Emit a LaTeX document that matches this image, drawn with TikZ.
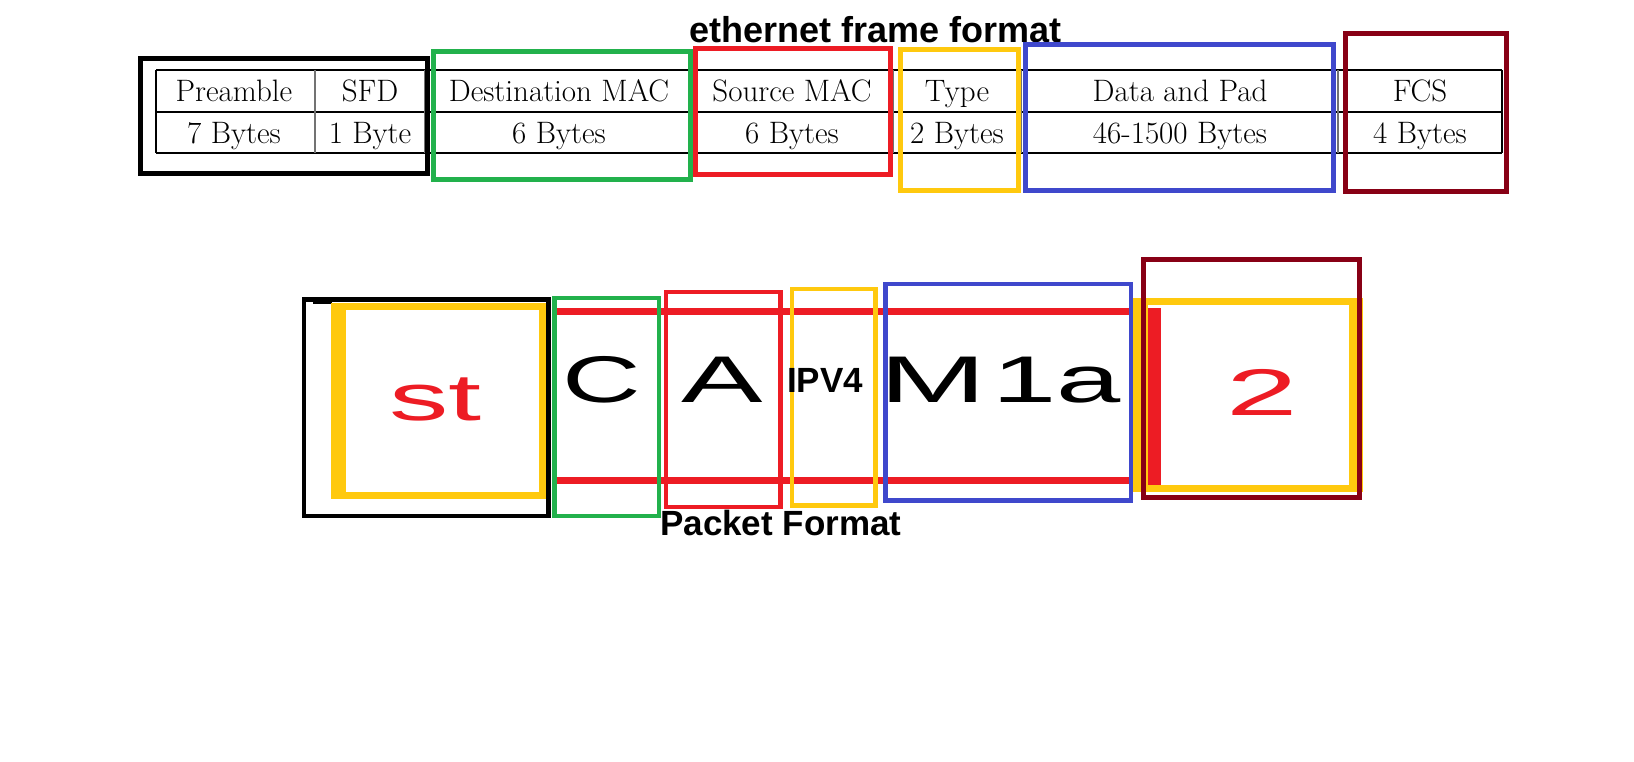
\documentclass[tikz,border=0pt]{standalone}
\usepackage{fontspec}
\usepackage{graphicx}
\usepackage{tikz}
\usetikzlibrary{positioning}
\newfontfamily\lsans{Liberation Sans}
\definecolor{pgreen}{HTML}{22B14C}
\definecolor{pred}{HTML}{ED1C24}
\definecolor{pgold}{HTML}{FFC90E}
\definecolor{pblue}{HTML}{3F48CC}
\definecolor{pdark}{HTML}{880015}
\newcommand{\stretchtxt}[2]{\scalebox{#1}[1]{#2}}

\begin{document}
\begin{tikzpicture}[x=1pt,y=-1pt,
  cell/.style={anchor=base, inner sep=0pt, font=\fontsize{31}{36}\selectfont},
  head/.style={anchor=base west, inner sep=0pt, font=\lsans\bfseries\fontsize{36}{40}\selectfont},
  glyph/.style={anchor=base, inner sep=0pt, font=\lsans\fontsize{66}{76}\selectfont},
  rule/.style={line width=2pt, draw=black},
  divider/.style={line width=2pt, draw=black!55},
  pen/.style={line width=5pt},
  penthin/.style={line width=4.5pt}]
\fill [white] (0,0) rectangle (1634,762);
\useasboundingbox (0,0) rectangle (1634,762);

\node [head] (Title) at (689,43) {ethernet frame format};

\draw [rule] (156,70) -- (1502,70);
\draw [rule] (156,112) -- (1502,112);
\draw [rule] (156,153) -- (1502,153);
\draw [rule] (156,70) -- (156,153);
\draw [rule] (1502,70) -- (1502,153);
\foreach \xd in {315,425,692,893,1021,1338}
  \draw [divider] (\xd,70) -- (\xd,153);

\node [cell] (Pre) at (234,102) {Preamble};
\node [cell] (Sfd) at (370,102) {SFD};
\node [cell] (Dst) at (559,102) {Destination MAC};
\node [cell] (Src) at (792,102) {Source MAC};
\node [cell] (Typ) at (957,102) {Type};
\node [cell] (Dat) at (1180,102) {Data and Pad};
\node [cell] (Fcs) at (1420,102) {FCS};
\node [cell] (PreB) at (234,144) {7 Bytes};
\node [cell] (SfdB) at (370,144) {1 Byte};
\node [cell] (DstB) at (559,144) {6 Bytes};
\node [cell] (SrcB) at (792,144) {6 Bytes};
\node [cell] (TypB) at (957,144) {2 Bytes};
\node [cell] (DatB) at (1180,144) {46-1500 Bytes};
\node [cell] (FcsB) at (1420,144) {4 Bytes};

\draw [pen, draw=black] (140.5,59) rectangle (427,174);
\draw [pen, draw=pgreen] (433,52) rectangle (690,179.5);
\draw [pen, draw=pred] (695,49) rectangle (890.5,175);
\draw [pen, draw=pgold] (900.5,50) rectangle (1018.5,190.5);
\draw [pen, draw=pblue] (1025.5,45) rectangle (1333.5,190.5);
\draw [pen, draw=pdark] (1345.5,34) rectangle (1506.5,192);

\fill [pred] (556,308) rectangle (1129,314.5);
\fill [pred] (556,477) rectangle (1129,484);

\draw [penthin, draw=black] (304,299.5) rectangle (548.5,516);
\fill [black] (313,300) rectangle (332,304);
\draw [line width=7pt, draw=pgold] (338.5,306.5) rectangle (542.5,495.5);
\fill [pgold] (331,303) rectangle (346,499);
\draw [penthin, draw=pgreen] (554.5,298) rectangle (659,516);
\draw [penthin, draw=pred] (666,292) rectangle (780.5,507);
\draw [penthin, draw=pgold] (792,289) rectangle (875.5,505.5);
\draw [penthin, draw=pblue] (885.5,284) rectangle (1131,500.5);

\draw [line width=7pt, draw=pgold] (1140,301.5) rectangle (1356,488.5);
\fill [pgold] (1133,298) rectangle (1148,492);
\fill [pgold] (1349,298) rectangle (1363,492);
\fill [pred] (1148,308) rectangle (1161,485);
\draw [pen, draw=pdark] (1143.5,259.5) rectangle (1359.5,497.5);

\node [glyph, text=pred] (St) at (435.5,420) {\stretchtxt{1.8}{st}};
\node [glyph] (C) at (602,402) {\stretchtxt{1.65}{C}};
\node [glyph] (A) at (722,402) {\stretchtxt{1.85}{A}};
\node [head, font=\lsans\bfseries\fontsize{35}{40}\selectfont] (Ipv) at (787,392) {IPV4};
\node [glyph, anchor=base west] (Mla) at (879,402) {\stretchtxt{1.95}{M}\hspace{6pt}\stretchtxt{1.75}{1a}};
\node [glyph, text=pred] (Two) at (1262.5,415) {\stretchtxt{1.95}{2}};

\node [head, font=\lsans\bfseries\fontsize{35}{40}\selectfont] (Pkt) at (660,535) {Packet Format};
\end{tikzpicture}
\end{document}
